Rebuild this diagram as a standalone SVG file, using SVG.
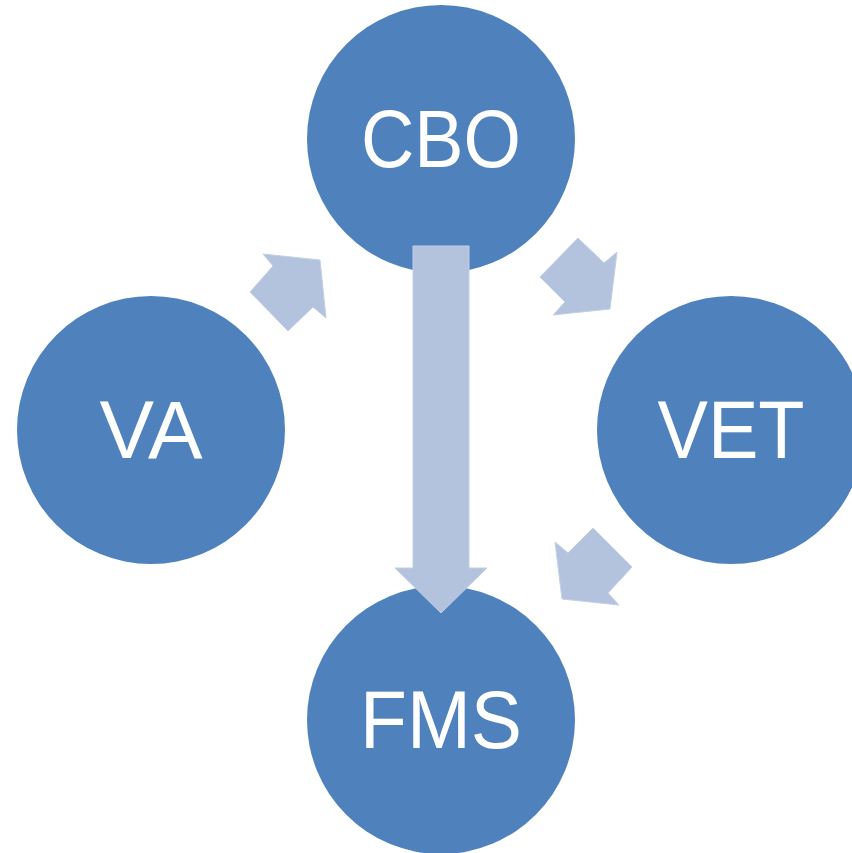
<svg xmlns="http://www.w3.org/2000/svg" width="852" height="853" viewBox="0 0 852 853">
<style>
.node circle{fill:#4F81BD}
.node text{fill:#fff;font-family:"Liberation Sans","Open Sans",Arial,sans-serif;font-size:82px;text-anchor:middle}
.arrow{fill:#B3C2DD;stroke:#C3CFE4;stroke-width:1}
</style>
<rect width="852" height="853" fill="#fff"/>
<g id="CBO" class="node"><circle cx="441" cy="139" r="134"/><text x="441" y="167" textLength="160" lengthAdjust="spacingAndGlyphs">CBO</text></g>
<g id="VA" class="node"><circle cx="151" cy="430" r="134"/><text x="151" y="458" textLength="103" lengthAdjust="spacingAndGlyphs">VA</text></g>
<g id="VET" class="node"><circle cx="731" cy="430" r="134"/><text x="731" y="458" textLength="147" lengthAdjust="spacingAndGlyphs">VET</text></g>
<g id="FMS" class="node"><circle cx="441" cy="720" r="134"/><text x="441" y="748" textLength="162" lengthAdjust="spacingAndGlyphs">FMS</text></g>
<g id="connectors">
<polygon class="arrow" points="250,292 273,266 263,254 320,260 326,318 313,307 288,331"/>
<polygon class="arrow" points="578,238 604,263 617,252 610,309 553,315 565,302 540,277"/>
<polygon class="arrow" points="593,528 632,567 608,593 619,605 562,599 555,542 568,553"/>
<polygon class="arrow" points="413,246 469,246 469,568 487,568 441,613 395,568 413,568"/>
</g>
</svg>
